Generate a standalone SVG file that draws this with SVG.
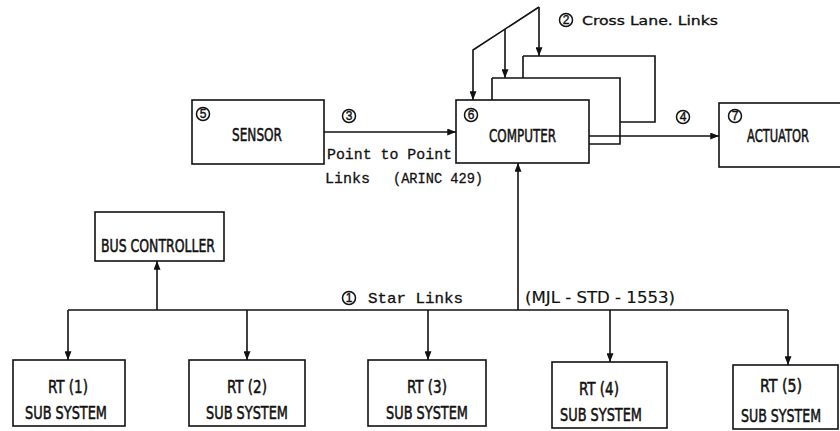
<svg xmlns="http://www.w3.org/2000/svg" width="840" height="431" viewBox="0 0 840 431">
<defs>
<marker id="ah" viewBox="0 0 10 8" refX="10" refY="4" markerWidth="9" markerHeight="7" markerUnits="userSpaceOnUse" orient="auto"><path d="M0,0 L10,4 L0,8 Z" fill="#111"/></marker>
</defs>
<style>
.box{fill:#fff;stroke:#111;stroke-width:1.6}
.ln{fill:none;stroke:#111;stroke-width:1.6}
.arr{marker-end:url(#ah)}
.lbl{font-family:"DejaVu Sans Condensed","Liberation Sans Narrow","Liberation Sans",sans-serif;font-size:18px;fill:#111;stroke:#111;stroke-width:0.5}
.mid{text-anchor:middle}
.small{font-size:13px;stroke-width:0.3}
.light{font-size:15px;stroke-width:0.15}
.mono{font-family:"Liberation Mono","DejaVu Sans Mono",monospace;font-size:15px;fill:#111;stroke:#111;stroke-width:0.3}
.num circle{fill:none;stroke:#111;stroke-width:1.5}
.num text{font-family:"Liberation Sans",sans-serif;font-size:12px;text-anchor:middle;fill:#111;stroke:#111;stroke-width:0.4}
</style>
<rect width="840" height="431" fill="#fff"/>

<g id="sensor">
<rect class="box" x="192" y="100" width="132" height="64"/>
<g class="num"><circle cx="203" cy="114" r="6.5"/><text x="203" y="118.3">5</text></g>
<text class="lbl" x="232" y="141" textLength="50" lengthAdjust="spacingAndGlyphs">SENSOR</text>
</g>

<g id="computer">
<path class="ln" d="M523,56 L523,78 M523,56 L655,56 L655,122 L620,122"/>
<path class="ln" d="M492,78 L492,100 M492,78 L620,78 L620,144 L589,144"/>
<rect class="box" x="456" y="100" width="133" height="63"/>
<g class="num"><circle cx="471" cy="115" r="6.5"/><text x="471" y="119.3">6</text></g>
<text class="lbl" x="489" y="142" textLength="67" lengthAdjust="spacingAndGlyphs">COMPUTER</text>
</g>

<g id="actuator">
<rect class="box" x="719" y="103" width="130" height="64"/>
<g class="num"><circle cx="735" cy="116" r="6.5"/><text x="735" y="120.3">7</text></g>
<text class="lbl" x="747" y="142" textLength="62" lengthAdjust="spacingAndGlyphs">ACTUATOR</text>
</g>

<g id="bus-controller">
<rect class="box" x="95" y="212" width="129" height="49"/>
<text class="lbl" x="101" y="252" textLength="114" lengthAdjust="spacingAndGlyphs">BUS CONTROLLER</text>
</g>

<g id="rt1">
<rect class="box" x="13" y="360" width="112" height="66"/>
<text class="lbl mid" x="68" y="393" textLength="40" lengthAdjust="spacingAndGlyphs">RT (1)</text>
<text class="lbl mid" x="66" y="419" textLength="82" lengthAdjust="spacingAndGlyphs">SUB SYSTEM</text>
</g>
<g id="rt2">
<rect class="box" x="189" y="360" width="116" height="66"/>
<text class="lbl mid" x="247" y="393" textLength="40" lengthAdjust="spacingAndGlyphs">RT (2)</text>
<text class="lbl mid" x="247" y="419" textLength="82" lengthAdjust="spacingAndGlyphs">SUB SYSTEM</text>
</g>
<g id="rt3">
<rect class="box" x="368" y="360" width="118" height="66"/>
<text class="lbl mid" x="427" y="393" textLength="40" lengthAdjust="spacingAndGlyphs">RT (3)</text>
<text class="lbl mid" x="427" y="419" textLength="82" lengthAdjust="spacingAndGlyphs">SUB SYSTEM</text>
</g>
<g id="rt4">
<rect class="box" x="552" y="362" width="115" height="66"/>
<text class="lbl mid" x="599" y="395" textLength="40" lengthAdjust="spacingAndGlyphs">RT (4)</text>
<text class="lbl mid" x="601" y="421" textLength="82" lengthAdjust="spacingAndGlyphs">SUB SYSTEM</text>
</g>
<g id="rt5">
<rect class="box" x="733" y="365" width="105" height="64"/>
<text class="lbl mid" x="781" y="392" textLength="42" lengthAdjust="spacingAndGlyphs">RT (5)</text>
<text class="lbl mid" x="781" y="422" font-size="16" textLength="80" lengthAdjust="spacingAndGlyphs">SUB SYSTEM</text>
</g>

<g id="connectors">
<path class="ln arr" d="M324,132 L456,132"/>
<path class="ln arr" d="M589,136 L719,136"/>
<path class="ln arr" d="M539,7 L473,50 L473,100"/>
<path class="ln arr" d="M505,29 L505,78"/>
<path class="ln arr" d="M539,7 L539,56"/>
<path class="ln" d="M68,310 L788,310"/>
<path class="ln arr" d="M68,310 L68,360"/>
<path class="ln arr" d="M247,310 L247,360"/>
<path class="ln arr" d="M428,310 L428,360"/>
<path class="ln arr" d="M610,310 L610,362"/>
<path class="ln arr" d="M788,310 L788,365"/>
<path class="ln arr" d="M157,310 L157,261"/>
<path class="ln arr" d="M518,310 L518,163"/>
</g>

<g id="labels">
<g class="num"><circle cx="349" cy="116" r="6.5"/><text x="349" y="120.3">3</text></g>
<g class="num"><circle cx="683" cy="117" r="6.5"/><text x="683" y="121.3">4</text></g>
<g class="num"><circle cx="566" cy="20" r="6.5"/><text x="566" y="24.3">2</text></g>
<g class="num"><circle cx="349" cy="298" r="6.5"/><text x="349" y="302.3">1</text></g>
<text class="lbl small" x="582" y="25" textLength="136" lengthAdjust="spacingAndGlyphs">Cross Lane. Links</text>
<text class="mono" x="327" y="159" textLength="125" lengthAdjust="spacingAndGlyphs">Point to Point</text>
<text class="mono" x="325" y="183" textLength="45" lengthAdjust="spacingAndGlyphs">Links</text>
<text class="mono" x="393" y="183" textLength="90" lengthAdjust="spacingAndGlyphs">(ARINC 429)</text>
<text class="mono" x="368" y="303" textLength="95" lengthAdjust="spacingAndGlyphs">Star Links</text>
<text class="lbl light" x="525" y="303" textLength="150" lengthAdjust="spacingAndGlyphs">(MJL - STD - 1553)</text>
</g>
</svg>
